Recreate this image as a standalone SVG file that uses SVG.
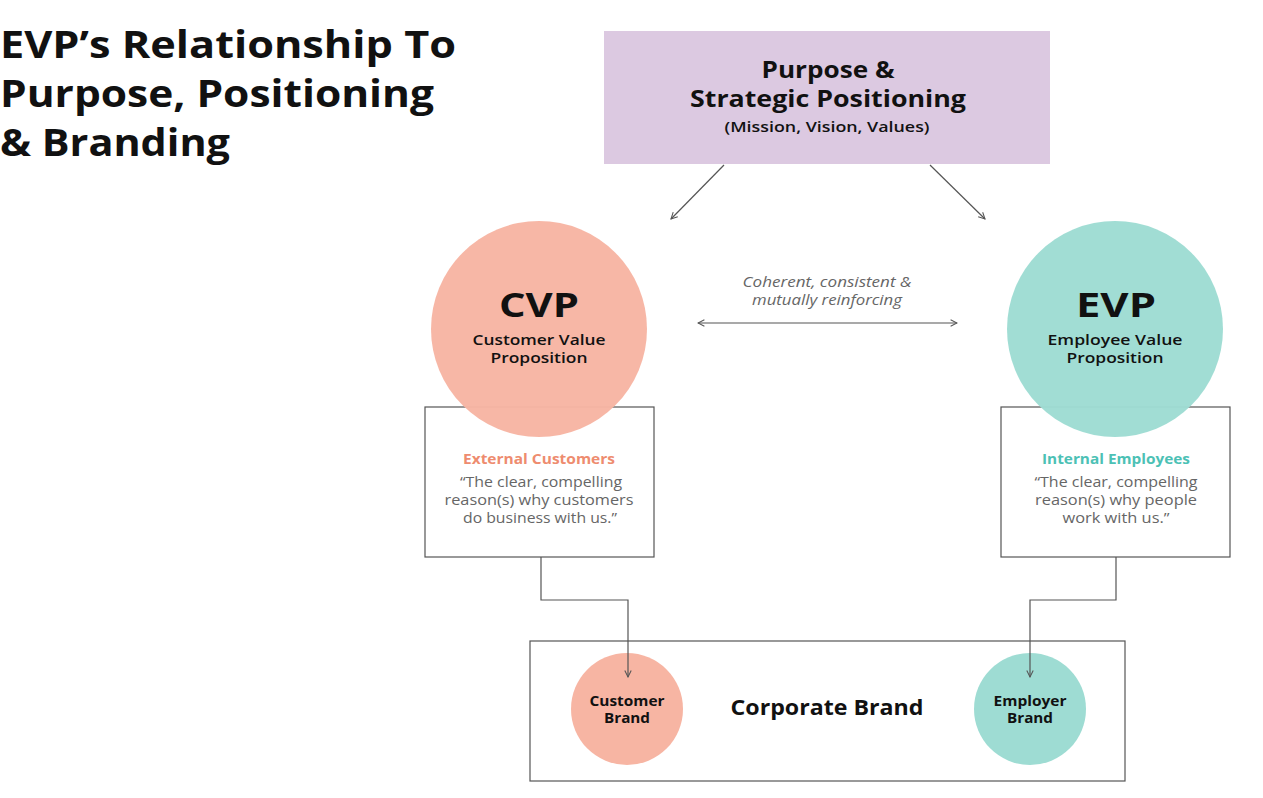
<svg xmlns="http://www.w3.org/2000/svg" width="1263" height="798" viewBox="0 0 1263 798">
<defs>
<marker id="arr" viewBox="0 0 10 10" refX="9" refY="5" markerWidth="8" markerHeight="8" orient="auto-start-reverse" markerUnits="userSpaceOnUse">
<path d="M1,1 L9,5 L1,9" fill="none" stroke="#555" stroke-width="1.3"/>
</marker>
<style>
.b{font-family:"Open Sans","Liberation Sans",sans-serif;font-weight:700;fill:#111;}
.s{font-family:"Open Sans","Liberation Sans",sans-serif;font-weight:600;fill:#111;}
.t{font-family:"Open Sans","Liberation Sans",sans-serif;fill:#666;}
.ln{fill:none;stroke:#555;stroke-width:1.2;}
.box{fill:#fff;stroke:#555;stroke-width:1.2;}
</style>
</defs>
<rect width="1263" height="798" fill="#fff"/>
<g id="title">
<text class="b" x="0" y="58" font-size="38" textLength="456" lengthAdjust="spacingAndGlyphs">EVP’s Relationship To</text>
<text class="b" x="0" y="107" font-size="38" textLength="434" lengthAdjust="spacingAndGlyphs">Purpose, Positioning</text>
<text class="b" x="0" y="156" font-size="38" textLength="230" lengthAdjust="spacingAndGlyphs">&amp; Branding</text>
</g>
<g id="purpose">
<rect x="604" y="31" width="446" height="133" fill="#dcc9e1"/>
<text class="b" x="828" y="78" font-size="23" text-anchor="middle" textLength="133" lengthAdjust="spacingAndGlyphs">Purpose &amp;</text>
<text class="b" x="828" y="107" font-size="23" text-anchor="middle" textLength="276" lengthAdjust="spacingAndGlyphs">Strategic Positioning</text>
<text class="s" x="827" y="132" font-size="14.5" text-anchor="middle" fill="#222" textLength="205" lengthAdjust="spacingAndGlyphs">(Mission, Vision, Values)</text>
</g>
<g id="cvp-box">
<rect class="box" x="425" y="407" width="229" height="150"/>
<text x="539" y="464" font-size="14.5" text-anchor="middle" class="b" style="fill:#ee8c6f" textLength="152" lengthAdjust="spacingAndGlyphs">External Customers</text>
<text class="t" x="541" y="487" font-size="15" text-anchor="middle" textLength="162" lengthAdjust="spacingAndGlyphs">“The clear, compelling</text>
<text class="t" x="539" y="505" font-size="15" text-anchor="middle" textLength="189" lengthAdjust="spacingAndGlyphs">reason(s) why customers</text>
<text class="t" x="540" y="523" font-size="15" text-anchor="middle" textLength="154" lengthAdjust="spacingAndGlyphs">do business with us.”</text>
</g>
<g id="evp-box">
<rect class="box" x="1001" y="407" width="229" height="150"/>
<text x="1116" y="464" font-size="14.5" text-anchor="middle" class="b" style="fill:#4cc1b5" textLength="148" lengthAdjust="spacingAndGlyphs">Internal Employees</text>
<text class="t" x="1116" y="487" font-size="15" text-anchor="middle" textLength="163" lengthAdjust="spacingAndGlyphs">“The clear, compelling</text>
<text class="t" x="1116" y="505" font-size="15" text-anchor="middle" textLength="162" lengthAdjust="spacingAndGlyphs">reason(s) why people</text>
<text class="t" x="1116" y="523" font-size="15" text-anchor="middle" textLength="107" lengthAdjust="spacingAndGlyphs">work with us.”</text>
</g>
<g id="cvp">
<circle cx="539" cy="329" r="108" fill="#f7b5a3" fill-opacity="0.97"/>
<text class="b" x="539" y="317" font-size="34" text-anchor="middle" textLength="80" lengthAdjust="spacingAndGlyphs">CVP</text>
<text class="s" x="539" y="345" font-size="15" text-anchor="middle" textLength="133" lengthAdjust="spacingAndGlyphs">Customer Value</text>
<text class="s" x="539" y="363" font-size="15" text-anchor="middle" textLength="97" lengthAdjust="spacingAndGlyphs">Proposition</text>
</g>
<g id="evp">
<circle cx="1115" cy="329" r="108" fill="#9edcd3" fill-opacity="0.97"/>
<text class="b" x="1116" y="317" font-size="34" text-anchor="middle" textLength="80" lengthAdjust="spacingAndGlyphs">EVP</text>
<text class="s" x="1115" y="345" font-size="15" text-anchor="middle" textLength="135" lengthAdjust="spacingAndGlyphs">Employee Value</text>
<text class="s" x="1115" y="363" font-size="15" text-anchor="middle" textLength="97" lengthAdjust="spacingAndGlyphs">Proposition</text>
</g>
<g id="relation-label">
<text class="t" x="827" y="287" font-size="14" font-style="italic" text-anchor="middle" textLength="169" lengthAdjust="spacingAndGlyphs">Coherent, consistent &amp;</text>
<text class="t" x="827" y="305" font-size="14" font-style="italic" text-anchor="middle" textLength="150" lengthAdjust="spacingAndGlyphs">mutually reinforcing</text>
</g>
<g id="corporate">
<rect class="box" x="530" y="641" width="595" height="140" fill="none"/>
<text class="b" x="827" y="715" font-size="22" text-anchor="middle" textLength="193" lengthAdjust="spacingAndGlyphs">Corporate Brand</text>
</g>
<g id="customer-brand">
<circle cx="627" cy="709" r="56" fill="#f7b5a3"/>
<text class="b" x="627" y="706" font-size="14" text-anchor="middle" fill="#222" textLength="75" lengthAdjust="spacingAndGlyphs">Customer</text>
<text class="b" x="627" y="723" font-size="14" text-anchor="middle" fill="#222" textLength="46" lengthAdjust="spacingAndGlyphs">Brand</text>
</g>
<g id="employer-brand">
<circle cx="1030" cy="709" r="56" fill="#9edcd3"/>
<text class="b" x="1030" y="706" font-size="14" text-anchor="middle" fill="#222" textLength="73" lengthAdjust="spacingAndGlyphs">Employer</text>
<text class="b" x="1030" y="723" font-size="14" text-anchor="middle" fill="#222" textLength="46" lengthAdjust="spacingAndGlyphs">Brand</text>
</g>
<g id="connectors">
<line class="ln" x1="724" y1="165" x2="671" y2="219" marker-end="url(#arr)"/>
<line class="ln" x1="930" y1="165" x2="985" y2="219" marker-end="url(#arr)"/>
<line class="ln" x1="698" y1="323" x2="957" y2="323" marker-start="url(#arr)" marker-end="url(#arr)"/>
<polyline class="ln" points="541,557 541,600 628,600 628,677" marker-end="url(#arr)"/>
<polyline class="ln" points="1116,557 1116,600 1030,600 1030,677" marker-end="url(#arr)"/>
</g>
</svg>
